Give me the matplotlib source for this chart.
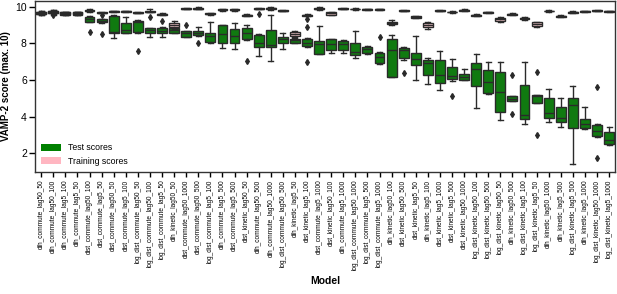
import matplotlib
matplotlib.use("Agg")
import matplotlib.pyplot as plt
from matplotlib.patches import Patch

plt.rcParams['font.family'] = ['Liberation Sans', 'DejaVu Sans']

models = [
    "dih_commute_lag50_50", "dih_commute_lag50_100", "dih_commute_lag5_100", "dih_commute_lag5_50",
    "dist_commute_lag50_100", "dist_commute_lag5_50", "dist_commute_lag50_50", "dist_commute_lag5_100",
    "log_dist_commute_lag50_50", "log_dist_commute_lag50_100", "log_dist_commute_lag5_50", "dih_kinetic_lag50_50",
    "dist_commute_lag50_1000", "dist_commute_lag50_500", "log_dist_commute_lag5_100", "dih_commute_lag5_500",
    "dist_commute_lag5_500", "dist_kinetic_lag50_50", "dih_commute_lag50_500", "dih_commute_lag50_1000",
    "log_dist_commute_lag50_500", "dih_kinetic_lag5_50", "dist_kinetic_lag5_100", "dist_commute_lag5_1000",
    "dist_kinetic_lag50_100", "dih_commute_lag5_1000", "log_dist_commute_lag50_1000", "log_dist_commute_lag5_500",
    "log_dist_commute_lag5_1000", "dih_kinetic_lag50_100", "dist_kinetic_lag50_500", "dist_kinetic_lag5_50",
    "dih_kinetic_lag5_100", "dist_kinetic_lag5_1000", "dist_kinetic_lag5_500", "dist_kinetic_lag50_1000",
    "log_dist_kinetic_lag50_100", "log_dist_kinetic_lag50_500", "log_dist_kinetic_lag50_50", "dih_kinetic_lag50_500",
    "log_dist_kinetic_lag5_100", "log_dist_kinetic_lag5_50", "dih_kinetic_lag50_1000", "dih_kinetic_lag5_500",
    "log_dist_kinetic_lag5_500", "dih_kinetic_lag5_1000", "log_dist_kinetic_lag50_1000", "log_dist_kinetic_lag5_1000",
]

# test scores (box statistics)
test_q1 = [9.60, 9.64, 9.58, 9.58, 9.18, 9.15, 8.55, 8.58, 8.64, 8.58, 8.55, 8.60,
           8.36, 8.45, 8.09, 8.00, 8.00, 8.22, 7.78, 7.82, 8.05, 8.04, 7.87, 7.45,
           7.67, 7.62, 7.36, 7.49, 6.94, 6.18, 7.18, 6.82, 6.27, 5.82, 6.05, 6.00,
           5.67, 5.27, 4.27, 4.87, 3.87, 4.76, 3.91, 3.69, 3.36, 3.36, 2.96, 2.51]
test_med = [9.66, 9.70, 9.64, 9.64, 9.33, 9.23, 8.62, 8.76, 9.20, 8.73, 8.70, 8.72,
            8.55, 8.57, 8.40, 8.51, 8.40, 8.55, 8.05, 7.91, 8.25, 8.18, 8.05, 7.95,
            7.97, 7.95, 7.55, 7.68, 7.24, 7.67, 7.65, 7.15, 6.95, 6.27, 6.20, 6.18,
            6.60, 5.91, 5.33, 4.99, 4.09, 5.10, 4.22, 3.91, 4.63, 3.60, 3.22, 2.70]
test_q3 = [9.72, 9.78, 9.70, 9.70, 9.45, 9.33, 9.51, 9.13, 9.24, 8.82, 8.82, 8.85,
           8.67, 8.67, 8.60, 9.00, 8.78, 8.82, 8.45, 8.73, 8.36, 8.27, 8.27, 8.15,
           8.22, 8.15, 8.04, 7.82, 7.49, 8.27, 7.76, 7.49, 7.09, 7.09, 6.73, 6.33,
           6.91, 6.55, 6.45, 5.10, 5.73, 5.18, 5.00, 4.55, 5.00, 3.86, 3.54, 3.18]
test_lo = [9.56, 9.58, 9.54, 9.54, 9.15, 9.12, 8.31, 8.55, 8.60, 8.38, 8.36, 8.55,
           8.33, 8.40, 8.05, 7.76, 7.68, 8.18, 7.33, 7.05, 7.68, 8.00, 7.80, 7.42,
           7.50, 7.50, 7.18, 7.45, 6.90, 6.15, 7.10, 6.00, 5.80, 5.45, 5.95, 5.98,
           4.45, 5.25, 3.82, 4.85, 3.60, 4.72, 3.69, 3.45, 1.40, 3.30, 2.90, 2.45]
test_hi = [9.76, 9.82, 9.74, 9.74, 9.48, 9.36, 9.55, 9.45, 9.28, 8.85, 8.90, 8.92,
           8.70, 8.90, 9.15, 9.02, 9.14, 9.00, 8.50, 9.55, 8.55, 8.30, 8.30, 8.96,
           8.25, 8.20, 8.67, 7.85, 7.52, 8.45, 7.80, 8.42, 7.20, 7.58, 7.13, 6.59,
           7.45, 7.00, 7.00, 5.12, 6.96, 5.20, 5.51, 5.04, 5.69, 4.55, 3.60, 3.42]
test_fliers = [[], [], [], [], [8.64], [8.50], [], [], [7.58], [], [], [],
               [9.00], [8.00], [], [], [], [7.05], [], [], [], [], [8.91, 6.98], [],
               [], [], [], [], [8.36], [], [6.40], [], [], [], [5.14], [],
               [], [], [], [6.27, 4.13], [], [6.42, 3.00], [], [], [], [], [5.64, 1.73], []]

# training scores
train_q1 = [9.62, 9.66, 9.62, 9.62, 9.78, 9.66, 9.73, 9.73, 9.66, 9.72, 9.57, 8.88,
            9.88, 9.88, 9.60, 9.82, 9.82, 9.52, 9.89, 9.91, 9.78, 8.40, 9.52, 9.89,
            9.58, 9.88, 9.86, 9.84, 9.84, 9.06, 9.78, 9.42, 8.88, 9.78, 9.70, 9.80,
            9.52, 9.68, 9.25, 9.57, 9.36, 8.95, 9.76, 9.47, 9.67, 9.73, 9.78, 9.74]
train_med = [9.68, 9.72, 9.66, 9.66, 9.80, 9.68, 9.75, 9.75, 9.69, 9.74, 9.60, 9.00,
             9.90, 9.90, 9.63, 9.84, 9.84, 9.55, 9.91, 9.93, 9.80, 8.50, 9.55, 9.91,
             9.64, 9.90, 9.88, 9.86, 9.86, 9.12, 9.80, 9.45, 9.00, 9.80, 9.72, 9.82,
             9.55, 9.70, 9.35, 9.60, 9.38, 9.05, 9.78, 9.50, 9.70, 9.75, 9.80, 9.76]
train_q3 = [9.74, 9.78, 9.70, 9.70, 9.82, 9.70, 9.77, 9.77, 9.72, 9.76, 9.63, 9.12,
            9.92, 9.92, 9.66, 9.86, 9.86, 9.58, 9.93, 9.95, 9.82, 8.62, 9.58, 9.93,
            9.72, 9.92, 9.90, 9.88, 9.88, 9.18, 9.82, 9.48, 9.12, 9.82, 9.74, 9.84,
            9.58, 9.72, 9.42, 9.63, 9.40, 9.15, 9.80, 9.53, 9.73, 9.77, 9.82, 9.78]
train_lo = [9.58, 9.62, 9.58, 9.58, 9.74, 9.64, 9.71, 9.71, 9.64, 9.70, 9.55, 8.80,
            9.86, 9.86, 9.58, 9.80, 9.80, 9.50, 9.87, 9.85, 9.76, 8.36, 9.50, 9.82,
            9.55, 9.86, 9.84, 9.82, 9.82, 9.02, 9.76, 9.40, 8.78, 9.76, 9.68, 9.78,
            9.50, 9.66, 9.20, 9.55, 9.30, 8.92, 9.74, 9.45, 9.65, 9.71, 9.76, 9.72]
train_hi = [9.78, 9.82, 9.74, 9.74, 9.88, 9.72, 9.79, 9.79, 9.74, 9.88, 9.65, 9.22,
            9.94, 9.98, 9.68, 9.88, 9.88, 9.60, 9.95, 10.0, 9.84, 8.66, 9.60, 10.0,
            9.74, 9.94, 9.92, 9.90, 9.90, 9.27, 9.84, 9.50, 9.16, 9.84, 9.76, 9.86,
            9.60, 9.74, 9.47, 9.65, 9.47, 9.18, 9.82, 9.56, 9.75, 9.79, 9.84, 9.80]
train_fliers = [[], [9.55], [], [], [], [9.55], [], [], [], [9.45], [9.24], [],
                [], [], [], [], [], [], [9.60], [], [], [], [9.33], [],
                [], [], [], [], [], [], [], [], [], [], [], [],
                [], [], [], [], [], [], [], [], [], [], [], []]

test_color = '#107a10'
train_color = '#f7c8ce'
edge = '#2a2a2a'


def make_stats(q1, med, q3, lo, hi, fl):
    return [dict(q1=a, med=b, q3=c, whislo=d, whishi=e, fliers=f)
            for a, b, c, d, e, f in zip(q1, med, q3, lo, hi, fl)]


fig = plt.figure(figsize=(6.17, 2.94), dpi=100)
ax = fig.add_axes([0.057, 0.415, 0.94, 0.582])

pos = list(range(len(models)))
for stats, col in [(make_stats(test_q1, test_med, test_q3, test_lo, test_hi, test_fliers), test_color),
                   (make_stats(train_q1, train_med, train_q3, train_lo, train_hi, train_fliers), train_color)]:
    ax.bxp(stats, positions=pos, widths=0.82, patch_artist=True, manage_ticks=False,
           boxprops=dict(facecolor=col, edgecolor=edge, linewidth=1.0),
           medianprops=dict(color=edge, linewidth=1.0),
           whiskerprops=dict(color=edge, linewidth=1.0),
           capprops=dict(color=edge, linewidth=1.0),
           flierprops=dict(marker='d', markerfacecolor=edge, markeredgecolor=edge, markersize=3))

ax.set_xlim(-0.5, len(models) - 0.5)
ax.set_ylim(0.97, 10.33)
ax.set_yticks([2, 4, 6, 8, 10])
ax.set_xticks(pos)
ax.set_xticklabels(models, rotation=90, fontsize=4.7)
ax.tick_params(axis='y', labelsize=7.5, length=4, width=1, pad=2)
ax.tick_params(axis='x', length=3.5, width=1, pad=2)
for s in ax.spines.values():
    s.set_linewidth(1.0)
    s.set_color('#333333')

ax.set_xlabel('Model', fontsize=7.5, fontweight='bold', labelpad=4)
ax.set_ylabel('VAMP-2 score (max. 10)', fontsize=7, fontweight='bold', labelpad=3)

handles = [Patch(facecolor='green', label='Test scores'),
           Patch(facecolor='#ffb6c1', label='Training scores')]
ax.legend(handles=handles, loc='lower left', frameon=False, fontsize=6.3,
          handlelength=2.2, handleheight=0.9, borderaxespad=0.3)

fig.savefig('out.png', dpi=100)
